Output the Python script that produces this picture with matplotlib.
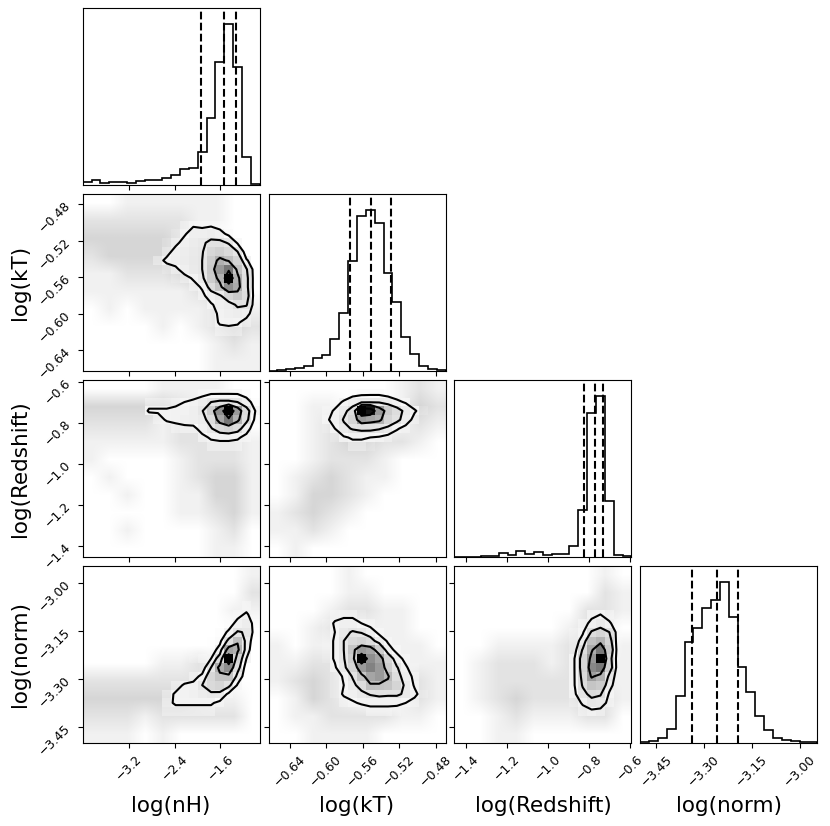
import numpy as np
import matplotlib
matplotlib.use("Agg")
import matplotlib.pyplot as plt
from matplotlib.colors import LinearSegmentedColormap
from matplotlib.ticker import FixedLocator, NullLocator, FuncFormatter


LABELS = ["log(nH)", "log(kT)", "log(Redshift)", "log(norm)"]

RANGES = [(-4.016, -0.912), (-0.663, -0.469), (-1.455, -0.592), (-3.500, -2.946)]

TICKS = [
    [-3.2, -2.4, -1.6],
    [-0.64, -0.60, -0.56, -0.52, -0.48],
    [-1.4, -1.2, -1.0, -0.8, -0.6],
    [-3.45, -3.30, -3.15, -3.00],
]

TICK_DECIMALS = [1, 2, 1, 2]

# 1D marginal histograms (20 bins over the axis range)
HIST_NH = [9, 15, 8, 9, 9, 7, 12, 15, 17, 21, 30, 48, 52, 100, 200, 368, 482, 353, 85, 3]
HIST_KT = [1, 3, 6, 10, 14, 38, 49, 96, 175, 329, 466, 483, 445, 293, 206, 101, 50, 15, 5, 4]
HIST_Z = [0, 1, 1, 2, 4, 13, 7, 18, 9, 15, 7, 10, 10, 34, 140, 431, 483, 167, 7, 3]
HIST_NORM = [1, 5, 15, 40, 141, 303, 346, 406, 430, 485, 378, 227, 154, 80, 38, 14, 8, 4, 2, 1]

# 16 / 50 / 84 percent quantiles
Q_NH = [-1.933, -1.530, -1.320]
Q_KT = [-0.5733, -0.5511, -0.5287]
Q_Z = [-0.825, -0.7695, -0.7285]
Q_NORM = [-3.337, -3.2606, -3.1938]

# contour levels on the density scale of the grids below
LEVELS = [5, 15, 40, 75]

# 2D densities, 20 x 20 bins, first row = top of the panel
DENS_NH_KT = [
    [0, 0, 0, 0, 0, 0, 0, 0, 0, 0, 0, 0, 0, 0, 0, 0, 0, 0, 0, 0],
    [0, 0, 0, 0, 0, 0, 0, 0, 0, 0, 0, 0, 0, 0, 0, 0, 0, 0, 0, 0],
    [0, 0, 0, 0, 0, 0, 0, 0, 0, 0, 0, 0, 0, 0, 0, 0, 0, 0, 0, 0],
    [0, 0, 0, 0, 0, 0, 0, 0, 0, 0, 0, 2, 4, 3, 4, 2, 0, 0, 0, 0],
    [0, 0, 0, 0, 0, 0, 0, 0, 0, 0, 1, 4, 9, 9, 10, 8, 3, 0, 0, 0],
    [0, 0, 0, 0, 0, 0, 0, 0, 0, 1, 3, 8, 11, 13, 18, 18, 14, 4, 0, 0],
    [0, 0, 0, 0, 0, 0, 0, 0, 0, 2, 8, 10, 12, 14, 24, 28, 22, 15, 0, 0],
    [0, 0, 0, 0, 0, 0, 0, 0, 2, 7, 9, 11, 13, 15, 30, 45, 38, 25, 6, 0],
    [0, 0, 0, 0, 0, 0, 0, 0, 0, 1, 3, 9, 12, 15, 32, 55, 70, 35, 16, 0],
    [0, 0, 0, 0, 0, 0, 0, 0, 0, 0, 1, 2, 6, 12, 30, 45, 100, 45, 18, 0],
    [0, 0, 0, 0, 0, 0, 0, 0, 0, 0, 0, 0, 2, 6, 20, 35, 60, 48, 18, 0],
    [0, 0, 0, 0, 0, 0, 0, 0, 0, 0, 0, 0, 0, 3, 9, 13, 25, 32, 20, 0],
    [0, 0, 0, 0, 0, 0, 0, 0, 0, 0, 0, 0, 0, 0, 4, 8, 10, 17, 16, 0],
    [0, 0, 0, 0, 0, 0, 0, 0, 0, 0, 0, 0, 0, 0, 1, 7, 9, 10, 8, 0],
    [0, 0, 0, 0, 0, 0, 0, 0, 0, 0, 0, 0, 0, 0, 1, 6, 7, 6, 2, 0],
    [0, 0, 0, 0, 0, 0, 0, 0, 0, 0, 0, 0, 0, 0, 0, 2, 2, 2, 0, 0],
    [0, 0, 0, 0, 0, 0, 0, 0, 0, 0, 0, 0, 0, 0, 0, 0, 0, 0, 0, 0],
    [0, 0, 0, 0, 0, 0, 0, 0, 0, 0, 0, 0, 0, 0, 0, 0, 0, 0, 0, 0],
    [0, 0, 0, 0, 0, 0, 0, 0, 0, 0, 0, 0, 0, 0, 0, 0, 0, 0, 0, 0],
    [0, 0, 0, 0, 0, 0, 0, 0, 0, 0, 0, 0, 0, 0, 0, 0, 0, 0, 0, 0],
]

DENS_NH_Z = [
    [0, 0, 0, 0, 0, 0, 0, 0, 0, 0, 0, 0, 0, 0, 0, 0, 0, 0, 0, 0],
    [0, 0, 0, 0, 0, 0, 0, 0, 0, 0, 0, 0, 0, 2, 4, 4, 4, 4, 2, 0],
    [0, 0, 0, 0, 0, 0, 0, 2, 2, 2, 3, 5, 7, 10, 15, 17, 17, 15, 8, 2],
    [0, 0, 0, 0, 0, 0, 0, 6, 6, 6, 7, 7, 9, 14, 30, 60, 100, 55, 20, 5],
    [0, 0, 0, 0, 0, 0, 0, 0, 2, 6, 7, 8, 9, 11, 20, 50, 70, 45, 18, 3],
    [0, 0, 0, 0, 0, 0, 0, 0, 0, 0, 2, 3, 3, 8, 14, 22, 25, 20, 8, 1],
    [0, 0, 0, 0, 0, 0, 0, 0, 0, 0, 0, 0, 0, 3, 6, 7, 7, 6, 3, 0],
    [0, 0, 0, 0, 0, 0, 0, 0, 0, 0, 0, 0, 0, 0, 2, 2, 2, 2, 0, 0],
    [0, 0, 0, 0, 0, 0, 0, 0, 0, 0, 0, 0, 0, 0, 0, 0, 0, 0, 0, 0],
    [0, 0, 0, 0, 0, 0, 0, 0, 0, 0, 0, 0, 0, 0, 0, 0, 0, 0, 0, 0],
    [0, 0, 0, 0, 0, 0, 0, 0, 0, 0, 0, 0, 0, 0, 0, 0, 0, 0, 0, 0],
    [0, 0, 0, 0, 0, 0, 0, 0, 0, 0, 0, 0, 0, 0, 0, 0, 0, 0, 0, 0],
    [0, 0, 0, 0, 0, 0, 0, 0, 0, 0, 0, 0, 0, 0, 0, 0, 0, 0, 0, 0],
    [0, 0, 0, 0, 0, 0, 0, 0, 0, 0, 0, 0, 0, 0, 0, 0, 0, 0, 0, 0],
    [0, 0, 0, 0, 0, 0, 0, 0, 0, 0, 0, 0, 0, 0, 0, 0, 0, 0, 0, 0],
    [0, 0, 0, 0, 0, 0, 0, 0, 0, 0, 0, 0, 0, 0, 0, 0, 0, 0, 0, 0],
    [0, 0, 0, 0, 0, 0, 0, 0, 0, 0, 0, 0, 0, 0, 0, 0, 0, 0, 0, 0],
    [0, 0, 0, 0, 0, 0, 0, 0, 0, 0, 0, 0, 0, 0, 0, 0, 0, 0, 0, 0],
    [0, 0, 0, 0, 0, 0, 0, 0, 0, 0, 0, 0, 0, 0, 0, 0, 0, 0, 0, 0],
    [0, 0, 0, 0, 0, 0, 0, 0, 0, 0, 0, 0, 0, 0, 0, 0, 0, 0, 0, 0],
]

DENS_KT_Z = [
    [0, 0, 0, 0, 0, 0, 0, 0, 0, 0, 0, 0, 0, 0, 0, 0, 0, 0, 0, 0],
    [0, 0, 0, 0, 0, 0, 0, 0, 0, 2, 3, 3, 3, 2, 0, 0, 0, 0, 0, 0],
    [0, 0, 0, 0, 0, 0, 0, 2, 6, 10, 12, 13, 13, 10, 7, 4, 0, 0, 0, 0],
    [0, 0, 0, 0, 0, 0, 2, 6, 12, 20, 100, 95, 55, 30, 20, 12, 6, 1, 0, 0],
    [0, 0, 0, 0, 0, 0, 4, 7, 16, 25, 55, 50, 45, 25, 18, 10, 2, 0, 0, 0],
    [0, 0, 0, 0, 0, 0, 1, 5, 12, 16, 18, 18, 16, 12, 6, 2, 0, 0, 0, 0],
    [0, 0, 0, 0, 0, 0, 0, 1, 4, 6, 6, 5, 4, 2, 0, 0, 0, 0, 0, 0],
    [0, 0, 0, 0, 0, 0, 0, 0, 0, 2, 2, 1, 0, 0, 0, 0, 0, 0, 0, 0],
    [0, 0, 0, 0, 0, 0, 0, 0, 0, 0, 0, 0, 0, 0, 0, 0, 0, 0, 0, 0],
    [0, 0, 0, 0, 0, 0, 0, 0, 0, 0, 0, 0, 0, 0, 0, 0, 0, 0, 0, 0],
    [0, 0, 0, 0, 0, 0, 0, 0, 0, 0, 0, 0, 0, 0, 0, 0, 0, 0, 0, 0],
    [0, 0, 0, 0, 0, 0, 0, 0, 0, 0, 0, 0, 0, 0, 0, 0, 0, 0, 0, 0],
    [0, 0, 0, 0, 0, 0, 0, 0, 0, 0, 0, 0, 0, 0, 0, 0, 0, 0, 0, 0],
    [0, 0, 0, 0, 0, 0, 0, 0, 0, 0, 0, 0, 0, 0, 0, 0, 0, 0, 0, 0],
    [0, 0, 0, 0, 0, 0, 0, 0, 0, 0, 0, 0, 0, 0, 0, 0, 0, 0, 0, 0],
    [0, 0, 0, 0, 0, 0, 0, 0, 0, 0, 0, 0, 0, 0, 0, 0, 0, 0, 0, 0],
    [0, 0, 0, 0, 0, 0, 0, 0, 0, 0, 0, 0, 0, 0, 0, 0, 0, 0, 0, 0],
    [0, 0, 0, 0, 0, 0, 0, 0, 0, 0, 0, 0, 0, 0, 0, 0, 0, 0, 0, 0],
    [0, 0, 0, 0, 0, 0, 0, 0, 0, 0, 0, 0, 0, 0, 0, 0, 0, 0, 0, 0],
    [0, 0, 0, 0, 0, 0, 0, 0, 0, 0, 0, 0, 0, 0, 0, 0, 0, 0, 0, 0],
]

DENS_NH_NORM = [
    [0, 0, 0, 0, 0, 0, 0, 0, 0, 0, 0, 0, 0, 0, 0, 0, 0, 0, 0, 0],
    [0, 0, 0, 0, 0, 0, 0, 0, 0, 0, 0, 0, 0, 0, 0, 0, 0, 0, 0, 0],
    [0, 0, 0, 0, 0, 0, 0, 0, 0, 0, 0, 0, 0, 0, 0, 0, 0, 0, 0, 0],
    [0, 0, 0, 0, 0, 0, 0, 0, 0, 0, 0, 0, 0, 0, 0, 0, 0, 0, 0, 0],
    [0, 0, 0, 0, 0, 0, 0, 0, 0, 0, 0, 0, 0, 0, 0, 0, 0, 0, 2, 0],
    [0, 0, 0, 0, 0, 0, 0, 0, 0, 0, 0, 0, 0, 0, 0, 0, 0, 3, 6, 1],
    [0, 0, 0, 0, 0, 0, 0, 0, 0, 0, 0, 0, 0, 0, 0, 0, 2, 7, 10, 2],
    [0, 0, 0, 0, 0, 0, 0, 0, 0, 0, 0, 0, 0, 0, 0, 2, 6, 16, 14, 1],
    [0, 0, 0, 0, 0, 0, 0, 0, 0, 0, 0, 0, 0, 0, 1, 3, 18, 38, 10, 0],
    [0, 0, 0, 0, 0, 0, 0, 0, 0, 0, 0, 0, 0, 0, 1, 8, 50, 45, 8, 0],
    [0, 0, 0, 0, 0, 0, 0, 0, 0, 0, 0, 0, 1, 2, 5, 22, 100, 25, 5, 0],
    [0, 0, 0, 0, 0, 0, 0, 0, 0, 0, 0, 0, 0, 0, 15, 47, 60, 20, 0, 0],
    [0, 0, 0, 0, 0, 0, 0, 0, 0, 0, 0, 0, 2, 7, 24, 35, 35, 11, 0, 0],
    [0, 0, 0, 0, 0, 0, 0, 0, 0, 0, 2, 6, 7, 15, 22, 25, 18, 4, 0, 0],
    [0, 0, 0, 0, 0, 0, 0, 0, 0, 2, 6, 7, 8, 11, 13, 12, 3, 0, 0, 0],
    [0, 0, 0, 0, 0, 0, 0, 0, 0, 3, 6, 6, 6, 6, 6, 3, 0, 0, 0, 0],
    [0, 0, 0, 0, 0, 0, 0, 0, 0, 2, 2, 2, 2, 2, 2, 0, 0, 0, 0, 0],
    [0, 0, 0, 0, 0, 0, 0, 0, 0, 0, 0, 0, 0, 0, 0, 0, 0, 0, 0, 0],
    [0, 0, 0, 0, 0, 0, 0, 0, 0, 0, 0, 0, 0, 0, 0, 0, 0, 0, 0, 0],
    [0, 0, 0, 0, 0, 0, 0, 0, 0, 0, 0, 0, 0, 0, 0, 0, 0, 0, 0, 0],
]

DENS_KT_NORM = [
    [0, 0, 0, 0, 0, 0, 0, 0, 0, 0, 0, 0, 0, 0, 0, 0, 0, 0, 0, 0],
    [0, 0, 0, 0, 0, 0, 0, 0, 0, 0, 0, 0, 0, 0, 0, 0, 0, 0, 0, 0],
    [0, 0, 0, 0, 0, 0, 0, 0, 0, 0, 0, 0, 0, 0, 0, 0, 0, 0, 0, 0],
    [0, 0, 0, 0, 0, 0, 0, 0, 0, 0, 0, 0, 0, 0, 0, 0, 0, 0, 0, 0],
    [0, 0, 0, 0, 0, 0, 0, 0, 0, 0, 0, 0, 0, 0, 0, 0, 0, 0, 0, 0],
    [0, 0, 0, 0, 0, 0, 0, 2, 3, 3, 1, 0, 0, 0, 0, 0, 0, 0, 0, 0],
    [0, 0, 0, 0, 0, 0, 1, 6, 8, 8, 5, 2, 0, 0, 0, 0, 0, 0, 0, 0],
    [0, 0, 0, 0, 0, 0, 1, 5, 12, 16, 14, 9, 3, 0, 0, 0, 0, 0, 0, 0],
    [0, 0, 0, 0, 0, 0, 1, 6, 15, 22, 25, 20, 10, 4, 0, 0, 0, 0, 0, 0],
    [0, 0, 0, 0, 0, 0, 1, 6, 15, 35, 55, 50, 30, 8, 3, 0, 0, 0, 0, 0],
    [0, 0, 0, 0, 0, 0, 1, 6, 14, 30, 100, 60, 50, 25, 8, 3, 0, 0, 0, 0],
    [0, 0, 0, 0, 0, 0, 0, 4, 12, 25, 55, 65, 55, 30, 16, 6, 1, 0, 0, 0],
    [0, 0, 0, 0, 0, 0, 0, 1, 6, 16, 35, 50, 55, 42, 20, 9, 3, 0, 0, 0],
    [0, 0, 0, 0, 0, 0, 0, 1, 5, 12, 20, 38, 37, 35, 25, 12, 4, 0, 0, 0],
    [0, 0, 0, 0, 0, 0, 0, 1, 6, 8, 12, 16, 18, 17, 17, 13, 7, 1, 0, 0],
    [0, 0, 0, 0, 0, 0, 0, 0, 2, 4, 6, 7, 7, 7, 7, 5, 2, 0, 0, 0],
    [0, 0, 0, 0, 0, 0, 0, 0, 0, 0, 0, 2, 2, 2, 1, 0, 0, 0, 0, 0],
    [0, 0, 0, 0, 0, 0, 0, 0, 0, 0, 0, 0, 0, 0, 0, 0, 0, 0, 0, 0],
    [0, 0, 0, 0, 0, 0, 0, 0, 0, 0, 0, 0, 0, 0, 0, 0, 0, 0, 0, 0],
    [0, 0, 0, 0, 0, 0, 0, 0, 0, 0, 0, 0, 0, 0, 0, 0, 0, 0, 0, 0],
]

DENS_Z_NORM = [
    [0, 0, 0, 0, 0, 0, 0, 0, 0, 0, 0, 0, 0, 0, 0, 0, 0, 0, 0, 0],
    [0, 0, 0, 0, 0, 0, 0, 0, 0, 0, 0, 0, 0, 0, 0, 0, 0, 0, 0, 0],
    [0, 0, 0, 0, 0, 0, 0, 0, 0, 0, 0, 0, 0, 0, 0, 0, 0, 0, 0, 0],
    [0, 0, 0, 0, 0, 0, 0, 0, 0, 0, 0, 0, 0, 0, 0, 0, 0, 0, 0, 0],
    [0, 0, 0, 0, 0, 0, 0, 0, 0, 0, 0, 0, 0, 0, 0, 0, 0, 0, 0, 0],
    [0, 0, 0, 0, 0, 0, 0, 0, 0, 0, 0, 0, 0, 0, 0, 3, 5, 2, 0, 0],
    [0, 0, 0, 0, 0, 0, 0, 0, 0, 0, 0, 0, 0, 0, 2, 7, 10, 6, 1, 0],
    [0, 0, 0, 0, 0, 0, 0, 0, 0, 0, 0, 0, 0, 1, 4, 16, 20, 15, 1, 0],
    [0, 0, 0, 0, 0, 0, 0, 0, 0, 0, 0, 0, 0, 1, 8, 30, 35, 20, 0, 0],
    [0, 0, 0, 0, 0, 0, 0, 0, 0, 0, 0, 0, 0, 1, 16, 38, 55, 25, 0, 0],
    [0, 0, 0, 0, 0, 0, 0, 0, 0, 0, 0, 0, 0, 4, 20, 45, 80, 20, 0, 0],
    [0, 0, 0, 0, 0, 0, 0, 0, 0, 0, 0, 0, 0, 4, 20, 50, 55, 22, 0, 0],
    [0, 0, 0, 0, 0, 0, 0, 0, 0, 0, 0, 0, 0, 4, 18, 42, 35, 12, 0, 0],
    [0, 0, 0, 0, 0, 0, 0, 0, 0, 0, 0, 0, 0, 4, 16, 28, 25, 8, 0, 0],
    [0, 0, 0, 0, 0, 0, 0, 0, 0, 0, 0, 0, 0, 3, 12, 18, 16, 4, 0, 0],
    [0, 0, 0, 0, 0, 0, 0, 0, 0, 0, 0, 0, 0, 1, 6, 11, 10, 2, 0, 0],
    [0, 0, 0, 0, 0, 0, 0, 0, 0, 0, 0, 0, 0, 0, 2, 3, 2, 0, 0, 0],
    [0, 0, 0, 0, 0, 0, 0, 0, 0, 0, 0, 0, 0, 0, 0, 0, 0, 0, 0, 0],
    [0, 0, 0, 0, 0, 0, 0, 0, 0, 0, 0, 0, 0, 0, 0, 0, 0, 0, 0, 0],
    [0, 0, 0, 0, 0, 0, 0, 0, 0, 0, 0, 0, 0, 0, 0, 0, 0, 0, 0, 0],
]

# faint sample cloud outside the contours, 10 x 10 cells (0 = none, 3 = dense)
CLOUD_NH_KT = [
    [0, 0, 1, 1, 1, 1, 1, 1, 0, 0],
    [2, 2, 2, 2, 2, 2, 1, 1, 0, 0],
    [3, 3, 3, 3, 3, 2, 1, 0, 0, 0],
    [2, 3, 3, 3, 3, 2, 1, 0, 0, 0],
    [1, 1, 2, 2, 2, 3, 3, 2, 0, 0],
    [1, 1, 1, 1, 1, 1, 2, 2, 1, 0],
    [0, 1, 0, 1, 1, 1, 1, 2, 2, 1],
    [0, 0, 0, 0, 1, 0, 1, 2, 3, 2],
    [0, 0, 0, 0, 0, 0, 0, 1, 2, 1],
    [0, 0, 0, 0, 0, 0, 0, 1, 1, 1],
]

CLOUD_NH_Z = [
    [0, 0, 0, 0, 1, 1, 1, 1, 0, 0],
    [3, 3, 3, 3, 3, 2, 1, 0, 0, 0],
    [2, 2, 2, 2, 1, 2, 2, 1, 0, 0],
    [1, 1, 1, 1, 1, 2, 2, 2, 2, 1],
    [1, 0, 0, 0, 0, 1, 2, 2, 2, 1],
    [0, 1, 0, 0, 0, 1, 2, 3, 3, 1],
    [0, 0, 1, 0, 0, 1, 1, 3, 3, 1],
    [0, 0, 0, 0, 0, 1, 1, 2, 3, 1],
    [0, 0, 1, 0, 0, 0, 0, 1, 2, 0],
    [0, 0, 0, 0, 0, 0, 0, 1, 1, 0],
]

CLOUD_KT_Z = [
    [0, 0, 0, 0, 0, 0, 0, 1, 2, 1],
    [0, 0, 1, 1, 0, 0, 0, 1, 3, 2],
    [0, 0, 1, 2, 1, 0, 0, 1, 2, 1],
    [0, 0, 1, 2, 3, 3, 2, 2, 1, 0],
    [0, 0, 1, 2, 2, 2, 1, 0, 0, 0],
    [0, 1, 2, 3, 2, 1, 1, 0, 0, 0],
    [0, 1, 3, 3, 2, 1, 0, 0, 0, 0],
    [1, 2, 3, 2, 1, 0, 0, 0, 0, 0],
    [1, 1, 2, 1, 0, 0, 0, 0, 0, 0],
    [0, 1, 0, 0, 0, 0, 0, 0, 0, 0],
]

CLOUD_NH_NORM = [
    [0, 0, 0, 0, 0, 0, 0, 0, 0, 1],
    [0, 0, 0, 0, 0, 0, 0, 0, 0, 2],
    [0, 0, 0, 0, 0, 0, 0, 0, 1, 1],
    [0, 0, 0, 0, 0, 0, 0, 0, 0, 0],
    [0, 0, 0, 0, 0, 0, 0, 0, 0, 0],
    [0, 0, 0, 0, 1, 1, 2, 1, 0, 0],
    [2, 2, 2, 2, 2, 2, 2, 1, 0, 0],
    [3, 3, 3, 3, 3, 3, 2, 1, 1, 0],
    [2, 2, 2, 1, 2, 2, 2, 2, 2, 0],
    [1, 1, 1, 0, 1, 0, 0, 0, 0, 0],
]

CLOUD_KT_NORM = [
    [0, 0, 0, 0, 1, 0, 0, 0, 0, 0],
    [0, 0, 0, 0, 1, 1, 0, 0, 0, 0],
    [0, 0, 0, 1, 2, 2, 1, 1, 0, 0],
    [0, 0, 1, 2, 1, 1, 1, 1, 0, 0],
    [1, 0, 1, 1, 0, 0, 1, 1, 1, 0],
    [1, 1, 2, 2, 0, 0, 0, 1, 1, 1],
    [1, 2, 3, 2, 1, 0, 0, 1, 2, 1],
    [0, 1, 3, 2, 1, 0, 0, 1, 2, 1],
    [0, 1, 1, 2, 2, 2, 2, 1, 1, 0],
    [0, 0, 1, 1, 1, 1, 0, 0, 0, 0],
]

CLOUD_Z_NORM = [
    [0, 0, 0, 0, 0, 0, 0, 0, 1, 0],
    [0, 0, 0, 0, 0, 0, 0, 0, 2, 1],
    [0, 0, 0, 0, 0, 0, 0, 2, 2, 1],
    [0, 0, 0, 0, 0, 0, 1, 2, 1, 0],
    [0, 0, 1, 1, 1, 1, 2, 2, 0, 1],
    [0, 1, 2, 2, 2, 1, 2, 2, 1, 1],
    [0, 1, 2, 2, 2, 2, 2, 2, 1, 1],
    [0, 1, 2, 3, 2, 2, 2, 3, 2, 1],
    [0, 0, 1, 2, 1, 1, 1, 2, 2, 0],
    [0, 0, 1, 1, 0, 0, 0, 0, 0, 0],
]


HISTS = [HIST_NH, HIST_KT, HIST_Z, HIST_NORM]
QUANTS = [Q_NH, Q_KT, Q_Z, Q_NORM]
PAIRS = {
    (1, 0): (DENS_NH_KT, CLOUD_NH_KT),
    (2, 0): (DENS_NH_Z, CLOUD_NH_Z),
    (2, 1): (DENS_KT_Z, CLOUD_KT_Z),
    (3, 0): (DENS_NH_NORM, CLOUD_NH_NORM),
    (3, 1): (DENS_KT_NORM, CLOUD_KT_NORM),
    (3, 2): (DENS_Z_NORM, CLOUD_Z_NORM),
}


def tick_formatter(decimals):
    return FuncFormatter(
        lambda v, pos: f"{v:.{decimals}f}".replace("-", "\u2212")
    )


def padded_centers(lo, hi):
    edges = np.linspace(lo, hi, 21)
    centers = 0.5 * (edges[1:] + edges[:-1])
    step = centers[1] - centers[0]
    return edges, np.concatenate(
        [centers[0] - step * np.array([2, 1]), centers, centers[-1] + step * np.array([1, 2])]
    )


density_cmap = LinearSegmentedColormap.from_list(
    "density",
    [(0.0, (1, 1, 1, 0)), (0.05, (0.96, 0.96, 0.96, 1)), (0.15, (0.90, 0.90, 0.90, 1)),
     (0.4, (0.74, 0.74, 0.74, 1)), (0.75, (0.42, 0.42, 0.42, 1)), (1.0, (0, 0, 0, 1))],
)
cloud_cmap = LinearSegmentedColormap.from_list("cloud", ["#ffffff", "#d6d6d6"])


fig, axes = plt.subplots(4, 4, figsize=(8.3, 8.26))
fig.subplots_adjust(left=0.0996, right=0.9847, bottom=0.1008, top=0.990,
                    wspace=0.05, hspace=0.05)

for row in range(4):
    for col in range(4):
        ax = axes[row, col]

        if col > row:
            ax.set_frame_on(False)
            ax.set_xticks([])
            ax.set_yticks([])
            continue

        xlo, xhi = RANGES[col]

        if row == col:
            counts = HISTS[col]
            edges = np.linspace(xlo, xhi, len(counts) + 1)
            ax.stairs(counts, edges, color="k", linewidth=1.2)
            for q in QUANTS[col]:
                ax.axvline(q, color="k", linestyle="--", linewidth=1.5)
            ax.set_ylim(0, 1.1 * max(counts))
            ax.yaxis.set_major_locator(NullLocator())
        else:
            ylo, yhi = RANGES[row]
            dens, cloud = PAIRS[(row, col)]
            H = np.array(dens, dtype=float)[::-1]

            ax.imshow(cloud, extent=(xlo, xhi, ylo, yhi), cmap=cloud_cmap,
                      vmin=0, vmax=3, interpolation="bilinear", aspect="auto")

            xe, xp = padded_centers(xlo, xhi)
            ye, yp = padded_centers(ylo, yhi)
            Hp = np.pad(np.pad(H, 1, mode="edge"), 1)

            ax.contourf(xp, yp, Hp, [LEVELS[0], Hp.max() + 1], colors="white",
                        antialiased=False)
            ax.pcolormesh(xe, ye, H, cmap=density_cmap, vmin=0, vmax=H.max(),
                          shading="flat", edgecolors="none", antialiased=False)
            ax.contour(xp, yp, Hp, LEVELS, colors="k", linewidths=1.5)

            ax.set_ylim(ylo, yhi)
            ax.yaxis.set_major_locator(FixedLocator(TICKS[row]))
            if col == 0:
                ax.yaxis.set_major_formatter(tick_formatter(TICK_DECIMALS[row]))
                ax.tick_params(axis="y", labelsize=9, labelrotation=45)
                ax.set_ylabel(LABELS[row], fontsize=15.5)
                ax.yaxis.set_label_coords(-0.3, 0.5)
            else:
                ax.set_yticklabels([])

        ax.set_xlim(xlo, xhi)
        ax.xaxis.set_major_locator(FixedLocator(TICKS[col]))
        if row == 3:
            ax.xaxis.set_major_formatter(tick_formatter(TICK_DECIMALS[col]))
            ax.tick_params(axis="x", labelsize=9, labelrotation=45)
            ax.set_xlabel(LABELS[col], fontsize=15.5)
            ax.xaxis.set_label_coords(0.5, -0.3)
        else:
            ax.set_xticklabels([])


fig.savefig("out.png", dpi=100)
